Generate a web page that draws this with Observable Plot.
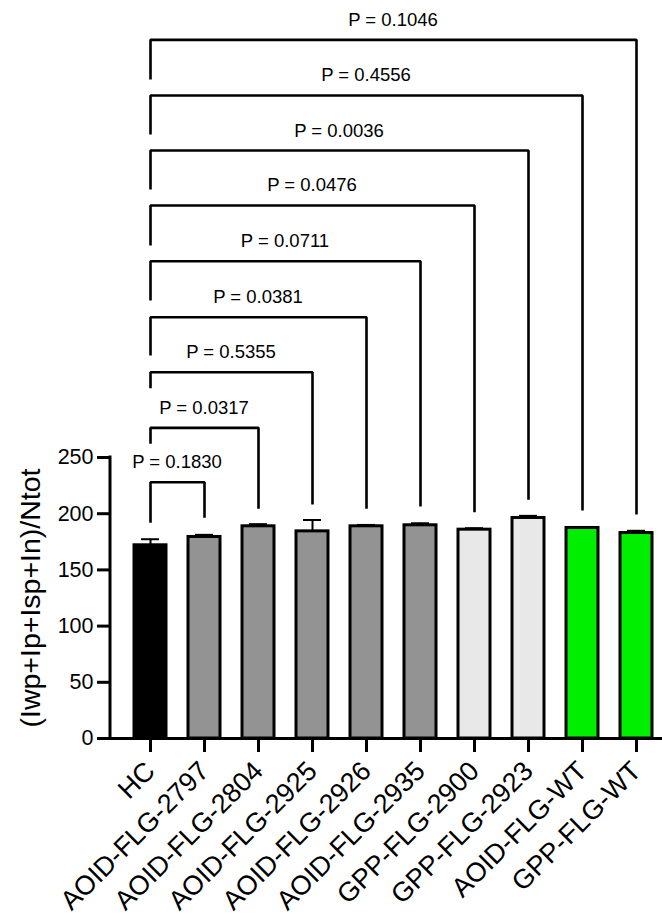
<!DOCTYPE html>
<html><head><meta charset="utf-8">
<script src="https://cdn.jsdelivr.net/npm/d3@7"></script>
<script src="https://cdn.jsdelivr.net/npm/@observablehq/plot@0.6"></script>
<style>body{margin:0;background:#fff} #chart svg{display:block}</style>
</head><body><div id="chart"></div>
<script>
const categories = ["HC","AOID-FLG-2797","AOID-FLG-2804","AOID-FLG-2925","AOID-FLG-2926","AOID-FLG-2935","GPP-FLG-2900","GPP-FLG-2923","AOID-FLG-WT","GPP-FLG-WT"];
const groups = ["HC","AOID","AOID","AOID","AOID","AOID","GPP","GPP","WT","WT"];
const means = [171.9,179.3,188.8,184.3,188.8,189.7,185.8,196.2,187.3,182.8];
const sems = [5.4,1.9,1.9,10.1,1.2,1.8,1.3,1.9,0,2.0];
const yTicks = [0,50,100,150,200,250];
const yTitle = "(Iwp+Ip+Isp+In)/Ntot";

const bracketRef = "HC";
const bracketTargets = ["AOID-FLG-2797","AOID-FLG-2804","AOID-FLG-2925","AOID-FLG-2926","AOID-FLG-2935","GPP-FLG-2900","GPP-FLG-2923","AOID-FLG-WT","GPP-FLG-WT"];
const pLabels = ["P = 0.1830","P = 0.0317","P = 0.5355","P = 0.0381","P = 0.0711","P = 0.0476","P = 0.0036","P = 0.4556","P = 0.1046"];
const bracketLevels = [228.0,276.4,325.9,374.8,424.6,474.2,523.1,572.1,621.6];
const leftLegEnds = [191.9,262.2,311.7,340.7,389.7,438.6,488.4,537.4,586.3];
const rightLegEnds = [196.4,204.4,208.2,204.4,206.4,201.3,212.4,202.8,199.3];

const font = "'Liberation Sans', Arial, Helvetica, sans-serif";

const bars = categories.map((c, i) => ({category: c, group: groups[i], mean: means[i], sem: sems[i]}));
const errs = bars.filter(d => d.sem > 0);
const bracketPath = bracketTargets.flatMap((t, i) => [
  {k: i, x: bracketRef, y: leftLegEnds[i]},
  {k: i, x: bracketRef, y: bracketLevels[i]},
  {k: i, x: t, y: bracketLevels[i]},
  {k: i, x: t, y: rightLegEnds[i]}
]);

function pLabelMark(index, scales) {
  const {x, y} = scales;
  const half = x.bandwidth ? x.bandwidth() / 2 : 0;
  const g = d3.create("svg:g").attr("font-size", 18.5).attr("font-family", font)
    .attr("text-anchor", "middle").attr("fill", "#000");
  pLabels.forEach((t, i) => {
    g.append("text")
      .attr("x", (x(bracketRef) + x(bracketTargets[i])) / 2 + half)
      .attr("y", y(bracketLevels[i]) - 20)
      .attr("dy", "0.35em")
      .text(t);
  });
  return g.node();
}

function yAxisLine(index, scales, values, dims) {
  const {y} = scales;
  return d3.create("svg:line")
    .attr("x1", dims.marginLeft).attr("x2", dims.marginLeft)
    .attr("y1", y(0)).attr("y2", y(d3.max(yTicks)))
    .attr("stroke", "#000").attr("stroke-width", 3).attr("stroke-linecap", "square")
    .node();
}

const chart = Plot.plot({
  width: 662, height: 918,
  marginLeft: 110, marginRight: 0, marginTop: 0, marginBottom: 180,
  style: {fontFamily: font, background: "#fff", color: "#000"},
  x: {domain: categories, range: [110, 676], paddingInner: 0.41, paddingOuter: 0.41, label: null},
  y: {domain: [0, 656.6], label: null},
  color: {domain: ["HC","AOID","GPP","WT"], range: ["#000000","#939393","#e8e8e8","#00ef00"]},
  marks: [
    Plot.ruleX(errs, {x: "category", y1: "mean", y2: d => d.mean + d.sem, stroke: "#000", strokeWidth: 2}),
    Plot.tickY(errs, {x: "category", y: d => d.mean + d.sem, stroke: "#000", strokeWidth: 2, insetLeft: 7, insetRight: 7}),
    Plot.barY(bars, {x: "category", y: "mean", fill: "group", stroke: "#000", strokeWidth: 3}),
    Plot.line(bracketPath, {x: "x", y: "y", z: "k", stroke: "#000", strokeWidth: 2.6, strokeLinejoin: "miter", strokeLinecap: "butt"}),
    pLabelMark,
    Plot.ruleY([0], {stroke: "#000", strokeWidth: 3}),
    yAxisLine,
    Plot.axisY({ticks: yTicks, tickSize: 13, tickPadding: 4, fontSize: 21.5, strokeWidth: 3, label: null}),
    Plot.axisX({tickRotate: -45, tickSize: 14, tickPadding: 14, fontSize: 27, strokeWidth: 3, label: null}),
    Plot.text([yTitle], {frameAnchor: "left", y: () => (yTicks[0] + yTicks[yTicks.length - 1]) / 2, rotate: -90, textAnchor: "middle", dx: -80, fontSize: 28.5, fill: "#000"})
  ]
});
document.getElementById("chart").append(chart);
</script>
</body></html>
